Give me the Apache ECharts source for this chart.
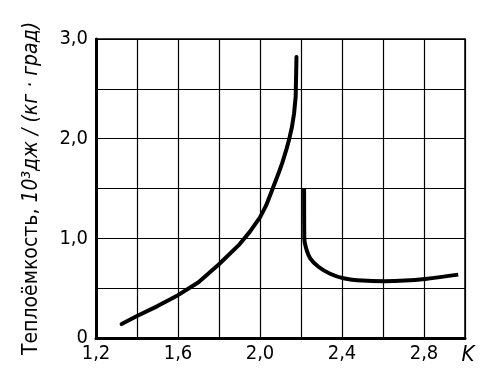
<!DOCTYPE html>
<html><head><meta charset="utf-8">
<script src="https://cdn.jsdelivr.net/npm/echarts@6/dist/echarts.min.js"></script>
<style>html,body{margin:0;padding:0;background:#fff}#c{width:500px;height:380px}</style>
</head><body><div id="c"></div>
<script>
var belowLambdaT = [1.325, 1.4, 1.5, 1.6, 1.7, 1.8, 1.9, 1.95, 2.0, 2.03, 2.062, 2.09, 2.109, 2.13, 2.143, 2.156, 2.166, 2.174, 2.178];
var belowLambdaC = [0.14, 0.22, 0.32, 0.43, 0.56, 0.74, 0.94, 1.065, 1.21, 1.33, 1.5, 1.65, 1.76, 1.9, 2.0, 2.12, 2.25, 2.42, 2.82];
var aboveLambdaT = [2.215, 2.216, 2.225, 2.245, 2.285, 2.342, 2.407, 2.5, 2.607, 2.707, 2.805, 2.967];
var aboveLambdaC = [1.5, 1.0, 0.9, 0.8, 0.715, 0.645, 0.6, 0.576, 0.57, 0.576, 0.593, 0.636];
var xTickLabels = {"1.2":"1,2","1.6":"1,6","2.0":"2,0","2.4":"2,4","2.8":"2,8"};
var yTickLabels = {"0.0":"0","1.0":"1,0","2.0":"2,0","3.0":"3,0"};
var yName = ["Теплоёмкость, ", "10³дж / (кг · град)"];

function pairs(xs, ys){ return xs.map(function(x,i){return [x, ys[i]];}); }
var FONT = "'DejaVu Sans Condensed','Liberation Sans',sans-serif";
var chart = echarts.init(document.getElementById('c'), null, {renderer:'canvas'});
chart.setOption({
  animation:false,
  backgroundColor:'#fff',
  grid:{left:96, top:39, right:35, bottom:42, show:true, borderColor:'#000', borderWidth:1.5},
  xAxis:{
    type:'value', min:1.2, max:3.0, interval:0.2,
    axisLine:{show:true, onZero:false, lineStyle:{color:'#000', width:3}},
    axisTick:{show:false},
    splitLine:{show:true, lineStyle:{color:'#000', width:1.2}},
    axisLabel:{
      color:'#000', fontFamily:FONT, fontSize:20, margin:6,
      formatter:function(v){
        var k = v.toFixed(1);
        if (Math.abs(v-3.0)<1e-6) return '{k|K}';
        return xTickLabels[k] || '';
      },
      rich:{k:{fontStyle:'italic', fontSize:22, fontFamily:FONT, color:'#000', padding:[0,0,0,6]}}
    }
  },
  yAxis:{
    type:'value', min:0, max:3.0, interval:0.5,
    axisLine:{show:true, lineStyle:{color:'#000', width:3}},
    axisTick:{show:false},
    splitLine:{show:true, lineStyle:{color:'#000', width:1.2}},
    axisLabel:{
      color:'#000', fontFamily:FONT, fontSize:20, margin:8,
      formatter:function(v){ return yTickLabels[v.toFixed(1)] || ''; }
    },
    name:'{a|'+yName[0]+'}{b|'+yName[1]+'}',
    nameLocation:'middle', nameGap:54, nameRotate:90,
    nameTextStyle:{
      color:'#000', fontFamily:FONT, fontSize:21,
      rich:{
        a:{fontFamily:FONT, fontSize:21, color:'#000'},
        b:{fontFamily:FONT, fontSize:21, color:'#000', fontStyle:'italic'}
      }
    }
  },
  series:[
    {type:'line', data:pairs(belowLambdaT, belowLambdaC), showSymbol:false, smooth:false,
     lineStyle:{color:'#000', width:4, join:'round', cap:'round'}, z:5},
    {type:'line', data:pairs(aboveLambdaT, aboveLambdaC), showSymbol:false, smooth:0.4,
     lineStyle:{color:'#000', width:4}, z:5}
  ]
});
</script></body></html>
